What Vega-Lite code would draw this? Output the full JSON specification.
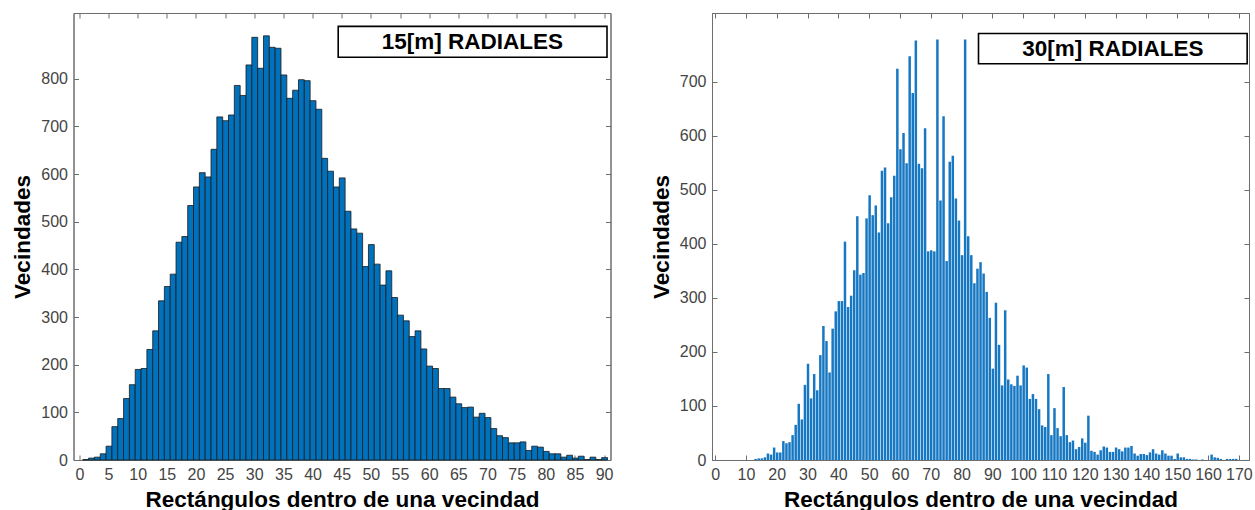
{
  "$schema": "https://vega.github.io/schema/vega-lite/v6.json",
  "background": "white",
  "padding": {"left": 10.5, "top": 12, "right": 7, "bottom": 0},
  "spacing": 35.5,
  "config": {
    "font": "Liberation Sans",
    "view": {"stroke": "#6e6e6e", "strokeWidth": 1},
    "axis": {
      "grid": false,
      "labelFont": "Liberation Sans",
      "labelFontSize": 16,
      "labelColor": "#444444",
      "labelPadding": 11,
      "domainColor": "#6e6e6e",
      "tickColor": "#6e6e6e",
      "tickSize": -5,
      "titleFont": "Liberation Sans",
      "titleFontSize": 22.5,
      "titleFontWeight": "bold",
      "titleColor": "#000000",
      "titlePadding": 6
    }
  },
  "datasets": {
    "r15": [
      {"n": 1, "vecindades": 1}, {"n": 2, "vecindades": 4}, {"n": 3, "vecindades": 6}, {"n": 4, "vecindades": 13},
      {"n": 5, "vecindades": 29}, {"n": 6, "vecindades": 70}, {"n": 7, "vecindades": 87}, {"n": 8, "vecindades": 129},
      {"n": 9, "vecindades": 158}, {"n": 10, "vecindades": 190}, {"n": 11, "vecindades": 192}, {"n": 12, "vecindades": 232},
      {"n": 13, "vecindades": 271}, {"n": 14, "vecindades": 334}, {"n": 15, "vecindades": 364}, {"n": 16, "vecindades": 390},
      {"n": 17, "vecindades": 457}, {"n": 18, "vecindades": 469}, {"n": 19, "vecindades": 534}, {"n": 20, "vecindades": 573},
      {"n": 21, "vecindades": 603}, {"n": 22, "vecindades": 594}, {"n": 23, "vecindades": 652}, {"n": 24, "vecindades": 720},
      {"n": 25, "vecindades": 712}, {"n": 26, "vecindades": 724}, {"n": 27, "vecindades": 786}, {"n": 28, "vecindades": 765},
      {"n": 29, "vecindades": 829}, {"n": 30, "vecindades": 887}, {"n": 31, "vecindades": 822}, {"n": 32, "vecindades": 890},
      {"n": 33, "vecindades": 866}, {"n": 34, "vecindades": 864}, {"n": 35, "vecindades": 808}, {"n": 36, "vecindades": 759},
      {"n": 37, "vecindades": 776}, {"n": 38, "vecindades": 798}, {"n": 39, "vecindades": 796}, {"n": 40, "vecindades": 754},
      {"n": 41, "vecindades": 736}, {"n": 42, "vecindades": 633}, {"n": 43, "vecindades": 606}, {"n": 44, "vecindades": 573},
      {"n": 45, "vecindades": 592}, {"n": 46, "vecindades": 522}, {"n": 47, "vecindades": 485}, {"n": 48, "vecindades": 476},
      {"n": 49, "vecindades": 406}, {"n": 50, "vecindades": 452}, {"n": 51, "vecindades": 411}, {"n": 52, "vecindades": 367},
      {"n": 53, "vecindades": 397}, {"n": 54, "vecindades": 341}, {"n": 55, "vecindades": 304}, {"n": 56, "vecindades": 292},
      {"n": 57, "vecindades": 259}, {"n": 58, "vecindades": 271}, {"n": 59, "vecindades": 233}, {"n": 60, "vecindades": 197},
      {"n": 61, "vecindades": 192}, {"n": 62, "vecindades": 150}, {"n": 63, "vecindades": 150}, {"n": 64, "vecindades": 132},
      {"n": 65, "vecindades": 118}, {"n": 66, "vecindades": 110}, {"n": 67, "vecindades": 111}, {"n": 68, "vecindades": 90},
      {"n": 69, "vecindades": 98}, {"n": 70, "vecindades": 89}, {"n": 71, "vecindades": 66}, {"n": 72, "vecindades": 51},
      {"n": 73, "vecindades": 47}, {"n": 74, "vecindades": 36}, {"n": 75, "vecindades": 36}, {"n": 76, "vecindades": 38},
      {"n": 77, "vecindades": 20}, {"n": 78, "vecindades": 29}, {"n": 79, "vecindades": 27}, {"n": 80, "vecindades": 18},
      {"n": 81, "vecindades": 13}, {"n": 82, "vecindades": 13}, {"n": 83, "vecindades": 6}, {"n": 84, "vecindades": 10},
      {"n": 85, "vecindades": 4}, {"n": 86, "vecindades": 8}, {"n": 87, "vecindades": 1}, {"n": 88, "vecindades": 6},
      {"n": 89, "vecindades": 1}, {"n": 90, "vecindades": 5}
    ],
    "r30": [
      {"n": 13, "vecindades": 2}, {"n": 14, "vecindades": 3}, {"n": 15, "vecindades": 3}, {"n": 16, "vecindades": 5},
      {"n": 17, "vecindades": 12}, {"n": 18, "vecindades": 10}, {"n": 19, "vecindades": 23}, {"n": 20, "vecindades": 14},
      {"n": 21, "vecindades": 14}, {"n": 22, "vecindades": 35}, {"n": 23, "vecindades": 31}, {"n": 24, "vecindades": 33},
      {"n": 25, "vecindades": 46}, {"n": 26, "vecindades": 65}, {"n": 27, "vecindades": 104}, {"n": 28, "vecindades": 75},
      {"n": 29, "vecindades": 139}, {"n": 30, "vecindades": 178}, {"n": 31, "vecindades": 114}, {"n": 32, "vecindades": 159},
      {"n": 33, "vecindades": 129}, {"n": 34, "vecindades": 194}, {"n": 35, "vecindades": 248}, {"n": 36, "vecindades": 220},
      {"n": 37, "vecindades": 162}, {"n": 38, "vecindades": 243}, {"n": 39, "vecindades": 275}, {"n": 40, "vecindades": 294},
      {"n": 41, "vecindades": 294}, {"n": 42, "vecindades": 404}, {"n": 43, "vecindades": 283}, {"n": 44, "vecindades": 304},
      {"n": 45, "vecindades": 351}, {"n": 46, "vecindades": 451}, {"n": 47, "vecindades": 343}, {"n": 48, "vecindades": 346},
      {"n": 49, "vecindades": 447}, {"n": 50, "vecindades": 490}, {"n": 51, "vecindades": 453}, {"n": 52, "vecindades": 471},
      {"n": 53, "vecindades": 421}, {"n": 54, "vecindades": 535}, {"n": 55, "vecindades": 541}, {"n": 56, "vecindades": 438},
      {"n": 57, "vecindades": 486}, {"n": 58, "vecindades": 526}, {"n": 59, "vecindades": 724}, {"n": 60, "vecindades": 575},
      {"n": 61, "vecindades": 605}, {"n": 62, "vecindades": 549}, {"n": 63, "vecindades": 747}, {"n": 64, "vecindades": 679},
      {"n": 65, "vecindades": 776}, {"n": 66, "vecindades": 548}, {"n": 67, "vecindades": 540}, {"n": 68, "vecindades": 614},
      {"n": 69, "vecindades": 386}, {"n": 70, "vecindades": 388}, {"n": 71, "vecindades": 386}, {"n": 72, "vecindades": 778},
      {"n": 73, "vecindades": 480}, {"n": 74, "vecindades": 636}, {"n": 75, "vecindades": 368}, {"n": 76, "vecindades": 552},
      {"n": 77, "vecindades": 563}, {"n": 78, "vecindades": 484}, {"n": 79, "vecindades": 443}, {"n": 80, "vecindades": 379},
      {"n": 81, "vecindades": 778}, {"n": 82, "vecindades": 414}, {"n": 83, "vecindades": 379}, {"n": 84, "vecindades": 327},
      {"n": 85, "vecindades": 354}, {"n": 86, "vecindades": 366}, {"n": 87, "vecindades": 345}, {"n": 88, "vecindades": 311},
      {"n": 89, "vecindades": 263}, {"n": 90, "vecindades": 169}, {"n": 91, "vecindades": 291}, {"n": 92, "vecindades": 213},
      {"n": 93, "vecindades": 138}, {"n": 94, "vecindades": 277}, {"n": 95, "vecindades": 149}, {"n": 96, "vecindades": 140},
      {"n": 97, "vecindades": 137}, {"n": 98, "vecindades": 156}, {"n": 99, "vecindades": 138}, {"n": 100, "vecindades": 175},
      {"n": 101, "vecindades": 171}, {"n": 102, "vecindades": 113}, {"n": 103, "vecindades": 122}, {"n": 104, "vecindades": 113},
      {"n": 105, "vecindades": 94}, {"n": 106, "vecindades": 64}, {"n": 107, "vecindades": 61}, {"n": 108, "vecindades": 159},
      {"n": 109, "vecindades": 46}, {"n": 110, "vecindades": 96}, {"n": 111, "vecindades": 59}, {"n": 112, "vecindades": 44},
      {"n": 113, "vecindades": 135}, {"n": 114, "vecindades": 46}, {"n": 115, "vecindades": 33}, {"n": 116, "vecindades": 36},
      {"n": 117, "vecindades": 20}, {"n": 118, "vecindades": 24}, {"n": 119, "vecindades": 40}, {"n": 120, "vecindades": 32},
      {"n": 121, "vecindades": 82}, {"n": 122, "vecindades": 17}, {"n": 123, "vecindades": 15}, {"n": 124, "vecindades": 10},
      {"n": 125, "vecindades": 18}, {"n": 126, "vecindades": 25}, {"n": 127, "vecindades": 23}, {"n": 128, "vecindades": 15},
      {"n": 129, "vecindades": 15}, {"n": 130, "vecindades": 23}, {"n": 131, "vecindades": 20}, {"n": 132, "vecindades": 16},
      {"n": 133, "vecindades": 23}, {"n": 134, "vecindades": 23}, {"n": 135, "vecindades": 26}, {"n": 136, "vecindades": 12},
      {"n": 137, "vecindades": 8}, {"n": 138, "vecindades": 11}, {"n": 139, "vecindades": 11}, {"n": 140, "vecindades": 9},
      {"n": 141, "vecindades": 14}, {"n": 142, "vecindades": 20}, {"n": 143, "vecindades": 12}, {"n": 144, "vecindades": 10},
      {"n": 145, "vecindades": 18}, {"n": 146, "vecindades": 12}, {"n": 147, "vecindades": 8}, {"n": 148, "vecindades": 8},
      {"n": 149, "vecindades": 2}, {"n": 150, "vecindades": 12}, {"n": 151, "vecindades": 5}, {"n": 152, "vecindades": 5},
      {"n": 153, "vecindades": 2}, {"n": 154, "vecindades": 2}, {"n": 155, "vecindades": 1}, {"n": 156, "vecindades": 1},
      {"n": 158, "vecindades": 1}, {"n": 161, "vecindades": 10}, {"n": 162, "vecindades": 5}, {"n": 163, "vecindades": 4},
      {"n": 164, "vecindades": 2}, {"n": 166, "vecindades": 2}, {"n": 167, "vecindades": 2}, {"n": 168, "vecindades": 2},
      {"n": 169, "vecindades": 2}
    ]
  },
  "hconcat": [
    {
      "width": 537,
      "height": 447,
      "resolve": {"axis": {"x": "independent", "y": "independent"}},
      "layer": [
        {
          "data": {"name": "r15"},
          "mark": {"type": "bar", "fill": "#0072BD", "stroke": "#1a1a1a", "strokeWidth": 0.8, "binSpacing": 0},
          "encoding": {
            "x": {
              "field": "n", "type": "quantitative",
              "bin": {"step": 1, "extent": [-0.5, 90.5], "nice": false},
              "scale": {"domain": [-1, 91.1], "nice": false, "zero": false},
              "axis": {"values": [0, 5, 10, 15, 20, 25, 30, 35, 40, 45, 50, 55, 60, 65, 70, 75, 80, 85, 90], "format": "d", "title": "Rectángulos dentro de una vecindad"}
            },
            "y": {
              "field": "vecindades", "type": "quantitative",
              "scale": {"domain": [0, 938], "nice": false},
              "axis": {"values": [0, 100, 200, 300, 400, 500, 600, 700, 800], "title": "Vecindades"}
            }
          }
        },
        {
          "data": {"values": [{"titulo": "15[m] RADIALES"}]},
          "mark": {"type": "rect", "fill": "white", "stroke": "#000000", "strokeWidth": 1.6},
          "encoding": {
            "x": {"datum": 44.4, "type": "quantitative", "axis": {"orient": "top", "labels": false, "title": null, "values": [0, 5, 10, 15, 20, 25, 30, 35, 40, 45, 50, 55, 60, 65, 70, 75, 80, 85, 90]}},
            "x2": {"datum": 90.5},
            "y": {"datum": 910, "type": "quantitative", "axis": {"orient": "right", "labels": false, "title": null, "values": [0, 100, 200, 300, 400, 500, 600, 700, 800]}},
            "y2": {"datum": 845}
          }
        },
        {
          "data": {"values": [{"titulo": "15[m] RADIALES"}]},
          "mark": {"type": "text", "font": "Liberation Sans", "fontSize": 22.5, "fontWeight": "bold", "color": "#000000", "align": "center", "baseline": "middle"},
          "encoding": {
            "text": {"field": "titulo"},
            "x": {"datum": 67.4, "type": "quantitative", "axis": null},
            "y": {"datum": 877, "type": "quantitative", "axis": null}
          }
        }
      ]
    },
    {
      "width": 537,
      "height": 447,
      "resolve": {"axis": {"x": "independent", "y": "independent"}},
      "layer": [
        {
          "data": {"name": "r30"},
          "mark": {"type": "bar", "fill": "#1677c2", "binSpacing": 0.6},
          "encoding": {
            "x": {
              "field": "n", "type": "quantitative",
              "bin": {"step": 1, "extent": [-0.5, 172.5], "nice": false},
              "scale": {"domain": [-1, 173.3], "nice": false, "zero": false},
              "axis": {"values": [0, 10, 20, 30, 40, 50, 60, 70, 80, 90, 100, 110, 120, 130, 140, 150, 160, 170], "format": "d", "title": "Rectángulos dentro de una vecindad"}
            },
            "y": {
              "field": "vecindades", "type": "quantitative",
              "scale": {"domain": [0, 827], "nice": false},
              "axis": {"values": [0, 100, 200, 300, 400, 500, 600, 700], "title": "Vecindades"}
            }
          }
        },
        {
          "data": {"values": [{"titulo": "30[m] RADIALES"}]},
          "mark": {"type": "rect", "fill": "white", "stroke": "#000000", "strokeWidth": 1.6},
          "encoding": {
            "x": {"datum": 85.5, "type": "quantitative", "axis": {"orient": "top", "labels": false, "title": null, "values": [0, 10, 20, 30, 40, 50, 60, 70, 80, 90, 100, 110, 120, 130, 140, 150, 160, 170]}},
            "x2": {"datum": 172.7},
            "y": {"datum": 789, "type": "quantitative", "axis": {"orient": "right", "labels": false, "title": null, "values": [0, 100, 200, 300, 400, 500, 600, 700]}},
            "y2": {"datum": 733}
          }
        },
        {
          "data": {"values": [{"titulo": "30[m] RADIALES"}]},
          "mark": {"type": "text", "font": "Liberation Sans", "fontSize": 22.5, "fontWeight": "bold", "color": "#000000", "align": "center", "baseline": "middle"},
          "encoding": {
            "text": {"field": "titulo"},
            "x": {"datum": 129.1, "type": "quantitative", "axis": null},
            "y": {"datum": 761, "type": "quantitative", "axis": null}
          }
        }
      ]
    }
  ]
}
